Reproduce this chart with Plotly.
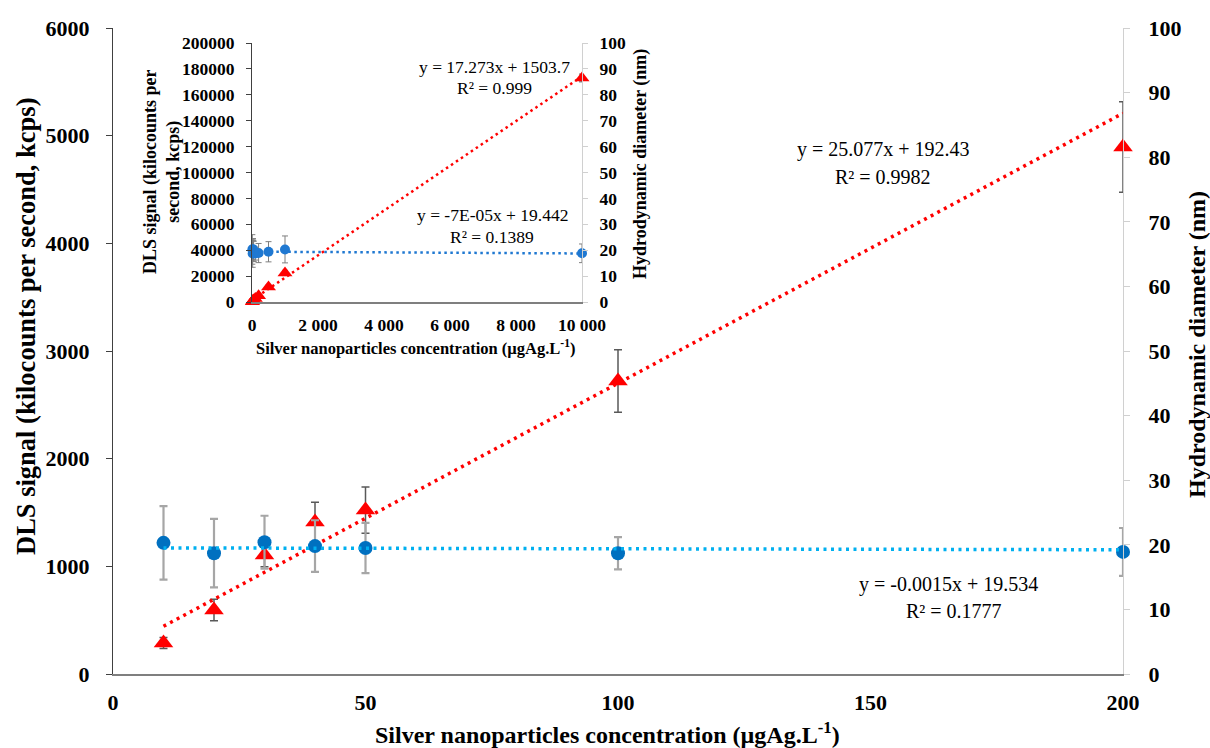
import plotly.graph_objects as go

# Silver nanoparticle concentration (µgAg/L)
conc_low = [10, 20, 30, 40, 50, 100, 200]
conc_all = [10, 20, 30, 40, 50, 100, 200, 500, 1000, 10000]

# DLS signal (kcps) and its standard deviation
dls_kcps = [288, 594, 1105, 1411, 1523, 2721, 4895, 11600, 22400, 173000]
dls_sd = [50, 100, 110, 185, 215, 290, 420, 1500, 2000, 3000]

# Hydrodynamic diameter (nm) and its standard deviation
diam_nm = [20.3, 18.7, 20.4, 19.8, 19.5, 18.7, 18.9, 19.4, 20.3, 18.8]
diam_sd = [5.7, 5.3, 4.1, 4.0, 3.9, 2.5, 3.7, 3.9, 5.2, 3.6]

# Linear trend lines (slope, intercept) as reported on the chart
fit_dls_low = (25.077, 192.43)
fit_diam_low = (-0.0015, 19.534)
fit_dls_all = (17.273, 1503.7)
fit_diam_all = (-7e-05, 19.442)

main_y_ticks = list(range(0, 6001, 1000))
main_y2_ticks = list(range(0, 101, 10))
main_x_ticks = [0, 50, 100, 150, 200]
inset_x_ticks = [0, 2000, 4000, 6000, 8000, 10000]
inset_x_labels = ["0", "2 000", "4 000", "6 000", "8 000", "10 000"]
inset_y_ticks = list(range(0, 200001, 20000))

FONT = "Liberation Serif"
RED = "#ff0000"
BLUE = "#0070c0"
LIGHT_BLUE = "#00b0f0"

W, H = 1210, 748
ML, MR, MT, MB = 113, 87, 28, 74
PW, PH = W - ML - MR, H - MT - MB


def px(x):
    return (x - ML) / PW


def py(y):
    return (H - MB - y) / PH


def line_of(fit, xs):
    a, b = fit
    x0, x1 = min(xs), max(xs)
    return [x0, x1], [a * x0 + b, a * x1 + b]


n = len(conc_low)
fig = go.Figure()

# ---- main chart (10-200 µgAg/L) ----
fig.add_trace(go.Scatter(
    x=conc_low, y=dls_kcps[:n], mode="markers", xaxis="x", yaxis="y", cliponaxis=False,
    marker=dict(symbol="triangle-up", size=17, color=RED),
    error_y=dict(type="data", array=dls_sd[:n], color="#595959", thickness=1.5, width=4),
    showlegend=False))
fig.add_trace(go.Scatter(
    x=conc_low, y=diam_nm[:n], mode="markers", xaxis="x", yaxis="y2", cliponaxis=False,
    marker=dict(symbol="circle", size=14, color=BLUE),
    error_y=dict(type="data", array=diam_sd[:n], color="#a6a6a6", thickness=2.2, width=4),
    showlegend=False))
lx, ly = line_of(fit_dls_low, conc_low)
fig.add_trace(go.Scatter(x=lx, y=ly, mode="lines", xaxis="x", yaxis="y", cliponaxis=False,
                         line=dict(color=RED, width=3.5, dash="3px,4.5px"), showlegend=False))
lx, ly = line_of(fit_diam_low, conc_low)
fig.add_trace(go.Scatter(x=lx, y=ly, mode="lines", xaxis="x", yaxis="y2", cliponaxis=False,
                         line=dict(color=LIGHT_BLUE, width=3.5, dash="3px,4.5px"), showlegend=False))

# ---- inset chart (full range up to 10 000 µgAg/L) ----
fig.add_trace(go.Scatter(
    x=conc_all, y=dls_kcps, mode="markers", xaxis="x2", yaxis="y3", cliponaxis=False,
    marker=dict(symbol="triangle-up", size=13, color=RED),
    error_y=dict(type="data", array=dls_sd, color="#595959", thickness=1, width=3),
    showlegend=False))
fig.add_trace(go.Scatter(
    x=conc_all, y=diam_nm, mode="markers", xaxis="x2", yaxis="y4", cliponaxis=False,
    marker=dict(symbol="circle", size=10, color="#1f78d1"),
    error_y=dict(type="data", array=diam_sd, color="#7f7f7f", thickness=1, width=3),
    showlegend=False))
lx, ly = line_of(fit_dls_all, conc_all)
fig.add_trace(go.Scatter(x=lx, y=ly, mode="lines", xaxis="x2", yaxis="y3", cliponaxis=False,
                         line=dict(color=RED, width=2.5, dash="2.5px,3.5px"), showlegend=False))
lx, ly = line_of(fit_diam_all, conc_all)
fig.add_trace(go.Scatter(x=lx, y=ly, mode="lines", xaxis="x2", yaxis="y4", cliponaxis=False,
                         line=dict(color="#1f78d1", width=2.5, dash="2.5px,3.5px"), showlegend=False))

tick_main = dict(family=FONT, size=22, color="black", weight="bold")
tick_inset = dict(family=FONT, size=17.5, color="black", weight="bold")

fig.update_layout(
    width=W, height=H, autosize=False,
    margin=dict(l=ML, r=MR, t=MT, b=MB),
    paper_bgcolor="white", plot_bgcolor="rgba(0,0,0,0)",
    font=dict(family=FONT, color="black"),
    xaxis=dict(domain=[0, 1], range=[0, 200], tickvals=main_x_ticks, ticks="",
               showgrid=False, zeroline=False, showline=True, linecolor="#7f7f7f", linewidth=2,
               tickfont=tick_main, ticklabelstandoff=8, anchor="y"),
    yaxis=dict(domain=[0, 1], range=[0, 6000], tickvals=main_y_ticks, ticks="outside",
               ticklen=6, tickcolor="#404040", showgrid=False, zeroline=False,
               showline=True, linecolor="#404040", linewidth=1.3, tickfont=tick_main,
               ticklabelstandoff=12, anchor="x"),
    yaxis2=dict(domain=[0, 1], range=[0, 100], tickvals=main_y2_ticks, ticks="outside",
                ticklen=6, tickcolor="#d0d0d0", showgrid=False, zeroline=False,
                showline=True, linecolor="#d0d0d0", linewidth=1.3, tickfont=tick_main,
                ticklabelstandoff=14, side="right", overlaying="y", anchor="x"),
    xaxis2=dict(domain=[px(252), px(582)], range=[0, 10000], tickvals=inset_x_ticks,
                ticktext=inset_x_labels, ticks="", showgrid=False, zeroline=False,
                showline=True, linecolor="#7f7f7f", linewidth=1.5, tickfont=tick_inset,
                ticklabelstandoff=6, anchor="y3"),
    yaxis3=dict(domain=[py(302), py(43)], range=[0, 200000], tickvals=inset_y_ticks,
                tickformat="d", ticks="outside", ticklen=5, tickcolor="#404040", showgrid=False,
                zeroline=False, showline=True, linecolor="#404040", linewidth=1,
                tickfont=tick_inset, ticklabelstandoff=8, anchor="x2"),
    yaxis4=dict(domain=[py(302), py(43)], range=[0, 100], tickvals=main_y2_ticks,
                ticks="outside", ticklen=5, tickcolor="#d0d0d0", showgrid=False,
                zeroline=False, showline=True, linecolor="#d0d0d0", linewidth=1,
                tickfont=tick_inset, ticklabelstandoff=8, side="right",
                overlaying="y3", anchor="x2"),
)

title_main = dict(family=FONT, size=24, color="black", weight="bold")
title_inset = dict(family=FONT, size=18, color="black", weight="bold")
eq_main = dict(family=FONT, size=20, color="black")
eq_inset = dict(family=FONT, size=17.5, color="black")

ann = [
    # axis titles, main chart
    dict(text="DLS signal (kilocounts per second, kcps)", x=px(26), y=py(327),
         textangle=-90, font=dict(family=FONT, size=26.5, color="black", weight="bold")),
    dict(text="Hydrodynamic diameter (nm)", x=px(1197), y=py(345),
         textangle=-90, font=title_main),
    dict(text="Silver nanoparticles concentration (µgAg.L<sup>-1</sup>)", x=px(607), y=py(733),
         font=title_main),
    # axis titles, inset
    dict(text="DLS signal (kilocounts per<br>second, kcps)", x=px(162), y=py(172),
         textangle=-90, font=title_inset),
    dict(text="Hydrodynamic diameter (nm)", x=px(640), y=py(164),
         textangle=-90, font=title_inset),
    dict(text="Silver nanoparticles concentration (µgAg.L<sup>-1</sup>)", x=px(415), y=py(348),
         font=dict(family=FONT, size=16.5, color="black", weight="bold")),
    # trend line equations, main chart
    dict(text="y = 25.077x + 192.43", x=px(883), y=py(150), font=eq_main),
    dict(text="R² = 0.9982", x=px(883), y=py(177), font=eq_main),
    dict(text="y = -0.0015x + 19.534", x=px(948), y=py(584), font=eq_main),
    dict(text="R² = 0.1777", x=px(954), y=py(611), font=eq_main),
    # trend line equations, inset
    dict(text="y = 17.273x + 1503.7", x=px(494), y=py(67), font=eq_inset),
    dict(text="R² = 0.999", x=px(494), y=py(88), font=eq_inset),
    dict(text="y = -7E-05x + 19.442", x=px(492), y=py(215), font=eq_inset),
    dict(text="R² = 0.1389", x=px(492), y=py(237), font=eq_inset),
]
for a in ann:
    a.update(xref="paper", yref="paper", showarrow=False, xanchor="center", yanchor="middle")
fig.update_layout(annotations=ann)

fig.write_html("out.html")
